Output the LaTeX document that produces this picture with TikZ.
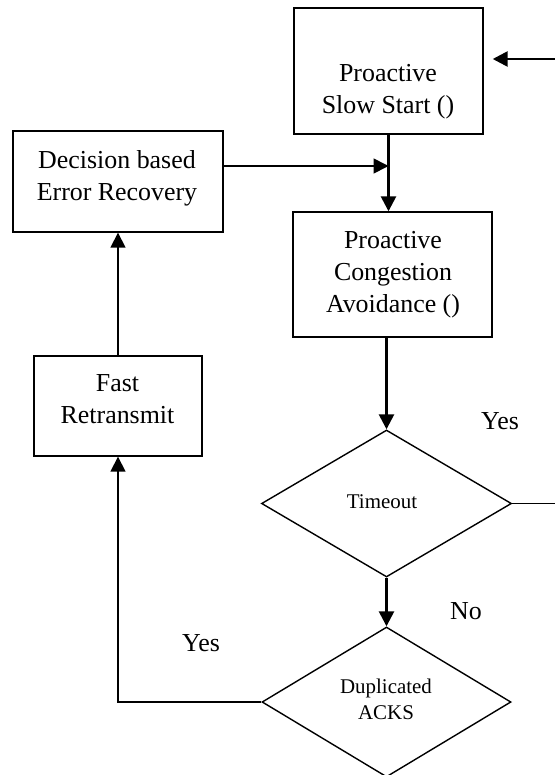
\documentclass[tikz,border=0pt]{standalone}
\usepackage{fontspec}
\setmainfont{Liberation Serif}
\usetikzlibrary{shapes.geometric,arrows.meta}
\begin{document}
\begin{tikzpicture}[x=1bp,y=-1bp,
  box/.style={draw, line width=1.4bp, inner sep=0pt},
  dia/.style={draw, diamond, line width=1.4bp, inner sep=0pt},
  txt/.style={align=center, font=\fontsize{26}{32}\selectfont, inner sep=0pt},
  stxt/.style={align=center, font=\fontsize{21}{26}\selectfont, inner sep=0pt},
  tip/.style={-{Triangle[length=15bp,width=15bp]}},
  thickarrow/.style={line width=2.6bp, tip},
  thinarrow/.style={line width=1.7bp, tip},
  thinline/.style={line width=1.5bp},
]
\useasboundingbox (0,0) rectangle (555,775);

% boxes
\node[box, minimum width=189bp, minimum height=126bp] (ss) at (388.5,71) {};
\node[txt] (ssT) at (388,92) {Proactive\\Slow Start ()};

\node[box, minimum width=210bp, minimum height=101bp] (der) at (118,181.5) {};
\node[txt] (derT) at (117,178) {Decision based\\Error Recovery};

\node[box, minimum width=199bp, minimum height=125bp] (pca) at (392.5,274.5) {};
\node[txt] (pcaT) at (393,274.5) {Proactive\\Congestion\\Avoidance ()};

\node[box, minimum width=168bp, minimum height=100bp] (fr) at (118,406) {};
\node[txt] (frT) at (117.5,399.5) {Fast\\Retransmit};

% decisions
\node[dia, minimum width=250bp, minimum height=147bp] (to) at (386.5,503.5) {};
\node[stxt] (toT) at (382,502) {Timeout};

\node[dia, minimum width=249bp, minimum height=150bp] (da) at (386.5,702) {};
\node[stxt] (daT) at (386,699) {Duplicated\\ACKS};

% labels
\node[txt] (yes1) at (500,421) {Yes};
\node[txt] (no1) at (466,611) {No};
\node[txt] (yes2) at (201,643) {Yes};

% connectors
\coordinate (inR) at (555,59);
\draw[thickarrow, shorten >=9bp] (inR) -- (ss.east |- inR);

\coordinate (j) at (388.5,166);
\draw[thickarrow] (ss.south) -- (ss.south |- pca.north);
\draw[thinarrow] (der.east |- j) -- (j);

\draw[thickarrow] (to.north |- pca.south) -- (to.north);

\coordinate (outR) at (555,503.5);
\draw[thinline] (to.east) -- (outR);

\draw[thickarrow] (to.south) -- (da.north);

\draw[thinarrow] (da.west) -- (fr.south |- da.west) -- (fr.south);
\draw[thinarrow] (fr.north) -- (der.south);
\end{tikzpicture}
\end{document}
